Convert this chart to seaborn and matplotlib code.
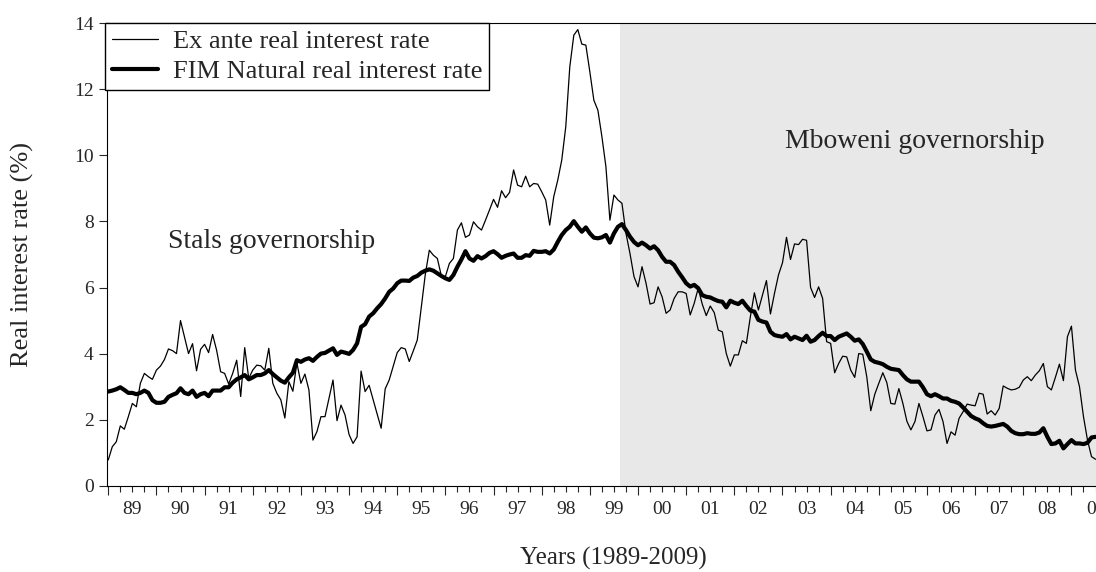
import numpy as np
import pandas as pd
import matplotlib
matplotlib.use('Agg')
import matplotlib.pyplot as plt
import seaborn as sns

# monthly data, Jan 1989 onwards (one row per year)
ex_ante = [
    0.78, 1.18, 1.33, 1.81, 1.71, 2.09, 2.49, 2.39, 3.10, 3.40, 3.30, 3.22,
    3.50, 3.62, 3.82, 4.14, 4.09, 4.00, 5.00, 4.50, 4.00, 4.30, 3.48, 4.13,
    4.28, 4.03, 4.58, 4.10, 3.45, 3.40, 3.08, 3.40, 3.80, 2.70, 4.18, 3.25,
    3.50, 3.65, 3.63, 3.50, 4.16, 3.10, 2.80, 2.60, 2.05, 3.15, 2.86, 3.72,
    3.10, 3.38, 2.90, 1.38, 1.64, 2.09, 2.09, 2.65, 3.20, 1.97, 2.44, 2.14,
    1.55, 1.28, 1.48, 3.47, 2.85, 3.04, 2.60, 2.17, 1.74, 2.93, 3.20, 3.62,
    4.03, 4.18, 4.14, 3.76, 4.08, 4.41, 5.40, 6.40, 7.13, 6.98, 6.88, 6.35,
    6.33, 6.73, 6.88, 7.74, 7.96, 7.52, 7.59, 7.99, 7.84, 7.74, 8.04, 8.35,
    8.67, 8.43, 8.93, 8.72, 8.88, 9.56, 9.10, 9.05, 9.37, 9.05, 9.15, 9.13,
    8.90, 8.65, 7.89, 8.75, 9.25, 9.86, 10.87, 12.68, 13.64, 13.81, 13.37, 13.34,
    12.53, 11.67, 11.37, 10.57, 9.66, 8.04, 8.80, 8.65, 8.55, 7.64, 7.03, 6.33,
    6.02, 6.63, 6.13, 5.50, 5.54, 6.02, 5.72, 5.22, 5.32, 5.67, 5.87, 5.87,
    5.82, 5.17, 5.52, 5.98, 5.50, 5.15, 5.44, 5.24, 4.71, 4.66, 4.00, 3.62,
    3.96, 3.96, 4.39, 4.31, 5.12, 5.84, 5.32, 5.77, 6.21, 5.20, 5.82, 6.38,
    6.75, 7.52, 6.85, 7.32, 7.30, 7.46, 7.43, 6.00, 5.70, 6.02, 5.67, 4.36,
    4.31, 3.42, 3.70, 3.92, 3.90, 3.50, 3.28, 4.00, 3.98, 3.30, 2.27, 2.77,
    3.10, 3.42, 3.12, 2.49, 2.47, 2.94, 2.49, 1.95, 1.69, 1.94, 2.49, 2.09,
    1.66, 1.69, 2.14, 2.31, 1.94, 1.28, 1.63, 1.53, 2.04, 2.24, 2.47, 2.44,
    2.42, 2.80, 2.77, 2.17, 2.27, 2.14, 2.34, 3.02, 2.95, 2.90, 2.92, 2.98,
    3.20, 3.30, 3.18, 3.35, 3.48, 3.70, 3.00, 2.90, 3.28, 3.68, 3.18, 4.51,
    4.83, 3.50, 3.00, 2.09, 1.38, 0.88, 0.80,
]

natural = [
    2.85, 2.88, 2.92, 2.98, 2.90, 2.81, 2.81, 2.77, 2.81, 2.88, 2.81, 2.59,
    2.51, 2.51, 2.54, 2.69, 2.75, 2.80, 2.95, 2.81, 2.77, 2.88, 2.69, 2.77,
    2.81, 2.71, 2.88, 2.88, 2.88, 2.98, 2.98, 3.12, 3.22, 3.28, 3.35, 3.22,
    3.28, 3.35, 3.35, 3.40, 3.50, 3.38, 3.28, 3.18, 3.12, 3.28, 3.42, 3.80,
    3.75, 3.82, 3.86, 3.78, 3.90, 4.00, 4.02, 4.09, 4.16, 3.96, 4.06, 4.03,
    3.99, 4.11, 4.31, 4.81, 4.89, 5.12, 5.22, 5.37, 5.50, 5.67, 5.87, 5.97,
    6.13, 6.21, 6.21, 6.20, 6.30, 6.35, 6.45, 6.51, 6.55, 6.51, 6.43, 6.35,
    6.28, 6.23, 6.38, 6.63, 6.85, 7.10, 6.88, 6.81, 6.95, 6.88, 6.95, 7.05,
    7.10, 7.01, 6.90, 6.96, 7.00, 7.03, 6.90, 6.90, 6.98, 6.96, 7.11, 7.08,
    7.08, 7.10, 7.03, 7.15, 7.38, 7.59, 7.74, 7.84, 8.01, 7.84, 7.69, 7.82,
    7.64, 7.51, 7.49, 7.52, 7.59, 7.36, 7.64, 7.84, 7.92, 7.74, 7.54, 7.38,
    7.28, 7.36, 7.28, 7.18, 7.25, 7.13, 6.93, 6.78, 6.78, 6.68, 6.48, 6.31,
    6.13, 6.03, 6.08, 5.98, 5.77, 5.72, 5.70, 5.64, 5.59, 5.57, 5.40, 5.60,
    5.54, 5.50, 5.60, 5.44, 5.30, 5.27, 5.02, 4.97, 4.94, 4.66, 4.56, 4.53,
    4.51, 4.59, 4.43, 4.51, 4.46, 4.41, 4.54, 4.36, 4.41, 4.53, 4.63, 4.53,
    4.53, 4.41, 4.51, 4.56, 4.61, 4.51, 4.39, 4.43, 4.29, 4.06, 3.82, 3.75,
    3.72, 3.68, 3.60, 3.54, 3.52, 3.50, 3.35, 3.22, 3.15, 3.15, 3.15, 2.98,
    2.77, 2.71, 2.77, 2.71, 2.64, 2.64, 2.57, 2.54, 2.49, 2.37, 2.24, 2.11,
    2.04, 1.99, 1.89, 1.81, 1.79, 1.81, 1.84, 1.87, 1.79, 1.66, 1.59, 1.56,
    1.56, 1.59, 1.57, 1.57, 1.61, 1.74, 1.48, 1.26, 1.28, 1.36, 1.13, 1.26,
    1.38, 1.28, 1.28, 1.26, 1.30, 1.46, 1.48,
]

years = list(range(1989, 2010))
year_labels = [str(y)[2:] for y in years]
mboweni_start = 1999 + 7.5 / 12

t = 1989 + np.arange(len(ex_ante)) / 12
df = pd.DataFrame({'t': t,
                   'Ex ante real interest rate': ex_ante,
                   'FIM Natural real interest rate': natural})

sns.set_style('ticks')
plt.rcParams['font.family'] = ['Liberation Serif', 'DejaVu Serif']

fig = plt.figure(figsize=(10.96, 5.72), dpi=100)
# axes run off the right edge, like the cropped original
ax = fig.add_axes([107.3 / 1096, 86.3 / 572, 1012.3 / 1096, 462.4 / 572])

ax.axvspan(mboweni_start, 2011, color='#e8e8e8', lw=0, zorder=0)

sns.lineplot(data=df, x='t', y='Ex ante real interest rate', ax=ax,
             color='black', linewidth=0.9, label='Ex ante real interest rate')
sns.lineplot(data=df, x='t', y='FIM Natural real interest rate', ax=ax,
             color='black', linewidth=3, label='FIM Natural real interest rate')

ax.set_xlim(1988.98, 2010.0)
ax.set_ylim(0, 14)
ax.set_yticks(range(0, 15, 2))

# year starts get long unlabelled ticks, labels sit on the mid-year quarter tick
ax.set_xticks(years, labels=[''] * len(years))
qpos, qlab = [], []
for y, lab in zip(years, year_labels):
    qpos += [y + 0.25, y + 0.5, y + 0.75]
    qlab += ['', lab, '']
ax.set_xticks(qpos, labels=qlab, minor=True)

ax.tick_params(axis='x', which='major', length=6.2, width=0.8)
ax.tick_params(axis='x', which='minor', length=4.3, width=0.8, pad=7, labelsize=14)
ax.tick_params(axis='y', length=5.8, width=0.8, pad=4, labelsize=14)

for s in ['left', 'bottom', 'top']:
    ax.spines[s].set_visible(True)
    ax.spines[s].set_color('black')
    ax.spines[s].set_linewidth(0.8)
ax.spines['right'].set_visible(False)

ax.set_ylabel('Real interest rate (%)', fontsize=19)
ax.yaxis.set_label_coords(-0.0843, 0.5)
ax.yaxis.label.set_va('center')
ax.set_xlabel('Years (1989-2009)', fontsize=18)
ax.xaxis.set_label_coords(0.4995, -0.158)
ax.xaxis.label.set_va('center')

ax.text(1990.24, 7.2, 'Stals governorship', fontsize=20, va='baseline')
ax.text(2003.05, 10.22, 'Mboweni governorship', fontsize=20, va='baseline')

leg = ax.legend(loc='upper left', bbox_to_anchor=(-0.002, 1), borderaxespad=0,
                frameon=True, fancybox=False, edgecolor='black', framealpha=1,
                fontsize=19, handlelength=1.75, handletextpad=0.55,
                labelspacing=0.25, borderpad=0.25)
leg.get_frame().set_linewidth(1.0)

fig.savefig('out.png', dpi=100)
